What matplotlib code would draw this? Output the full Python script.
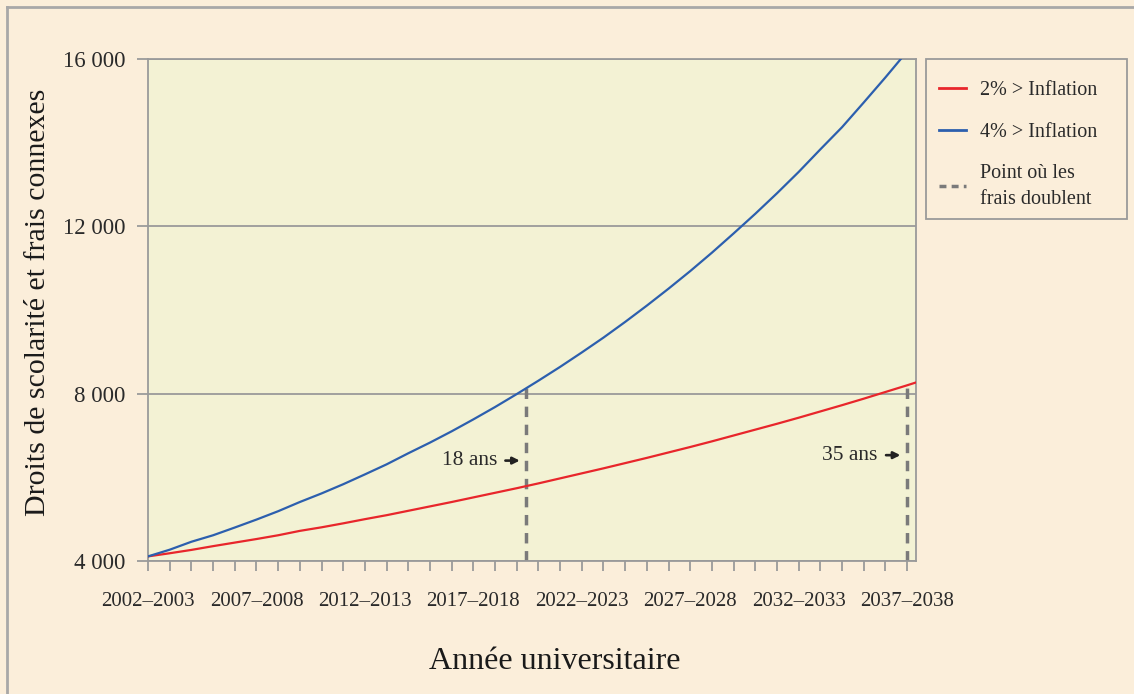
import matplotlib
matplotlib.use("Agg")
import matplotlib.pyplot as plt
from matplotlib.lines import Line2D
from matplotlib.patches import Rectangle

plt.rcParams['font.family'] = ['Liberation Serif', 'DejaVu Serif']

# années universitaires (0 = 2002-2003)
years = list(range(0, 37))
tick_labels = ['2002–2003', '2007–2008', '2012–2013', '2017–2018',
               '2022–2023', '2027–2028', '2032–2033', '2037–2038']

# droits de scolarité estimés, 2 % au-dessus de l'inflation
red_vals = [4110, 4185, 4265, 4355, 4440, 4525, 4615, 4720, 4805, 4900,
            5000, 5095, 5200, 5305, 5410, 5520, 5630, 5740, 5855, 5975,
            6095, 6215, 6340, 6465, 6595, 6725, 6860, 7000, 7140, 7280,
            7425, 7575, 7725, 7880, 8040, 8200, 8365]
# 4 % au-dessus de l'inflation
blue_vals = [4110, 4270, 4460, 4615, 4800, 4990, 5190, 5410, 5615, 5835,
             6070, 6310, 6575, 6830, 7100, 7385, 7680, 7990, 8310, 8640,
             8985, 9340, 9715, 10105, 10510, 10930, 11370, 11830, 12300, 12790,
             13300, 13840, 14370, 14960, 15560, 16180, 16830]

# points où les frais doublent
double_x = [17.45, 35]
double_y = [8150, 8200]
double_txt = ['18 ans', '35 ans']
txt_y = [6400, 6530]

bg = '#fbeeda'
fig = plt.figure(figsize=(11.34, 6.94), dpi=100, facecolor=bg)

# cadre de la figure (haut et gauche)
fig.add_artist(Line2D([7/1134, 7/1134], [0, 1 - 7/694], color='#a8a8a8', lw=2))
fig.add_artist(Line2D([7/1134, 1], [1 - 7/694, 1 - 7/694], color='#a8a8a8', lw=2))

ax = fig.add_axes([148/1134, 1 - 561/694, (916 - 148)/1134, (561 - 59)/694])
ax.set_facecolor('#f3f2d4')

ax.plot(years, red_vals, color='#e8262b', lw=1.6, zorder=3)
ax.plot(years, blue_vals, color='#2c5fae', lw=1.6, zorder=3)

for x, y, t, ty in zip(double_x, double_y, double_txt, txt_y):
    ax.plot([x, x], [4000, y], color='#7a7a7a', lw=2.5, ls=(0, (3, 2.2)), zorder=2)
    ax.annotate('', xy=(x - 0.18, ty), xytext=(x - 1.1, ty),
                arrowprops=dict(arrowstyle='-|>', color='#222222', lw=1.9, mutation_scale=10))
    ax.text(x - 1.35, ty, t, ha='right', va='center', fontsize=15.5, color='#2a2a2a')

ax.set_xlim(0, 35.41)
ax.set_ylim(4000, 16000)
ax.set_yticks([4000, 8000, 12000, 16000])
ax.set_yticklabels(['4 000', '8 000', '12 000', '16 000'])
ax.set_xticks(range(0, 36))
ax.set_xticklabels([tick_labels[i // 5] if i % 5 == 0 else '' for i in range(0, 36)])
ax.grid(axis='y', color='#9a9a9a', lw=1.3)
ax.set_axisbelow(True)
for s in ax.spines.values():
    s.set_color('#9a9a9a')
    s.set_linewidth(1.3)
ax.tick_params(axis='x', length=7, width=1.3, color='#9a9a9a', pad=15, labelsize=15, labelcolor='#2a2a2a')
ax.tick_params(axis='y', length=8, width=1.3, color='#9a9a9a', pad=8, labelsize=16.5, labelcolor='#2a2a2a')

ax.set_xlabel('Année universitaire', fontsize=23, color='#1a1a1a', labelpad=26)
ax.set_ylabel('Droits de scolarité et frais connexes', fontsize=21.5, color='#1a1a1a', labelpad=9)
ax.xaxis.label.set_x(0.529)
ax.yaxis.label.set_y(0.516)

# légende dans un cadre
fig.add_artist(Rectangle((926/1134, 1 - 219/694), 201/1134, 160/694, transform=fig.transFigure,
                         facecolor=bg, edgecolor='#9a9a9a', lw=1.3))
handles = [Line2D([], [], color='#e8262b', lw=2),
           Line2D([], [], color='#2c5fae', lw=2),
           Line2D([], [], color='#7a7a7a', lw=2.5, ls=(0, (2, 1.5)))]
leg = fig.legend(handles, ['2% > Inflation', '4% > Inflation', 'Point où les\nfrais doublent'],
                 loc='upper left', bbox_to_anchor=(939/1134, 1 - 81/694), borderaxespad=0,
                 fontsize=14.5, frameon=False, borderpad=0, labelspacing=1.12,
                 handlelength=1.35, handletextpad=0.7, labelcolor='#2a2a2a')
for t in leg.get_texts():
    t.set_linespacing(1.45)

fig.savefig('out.png', dpi=100, facecolor=bg)
